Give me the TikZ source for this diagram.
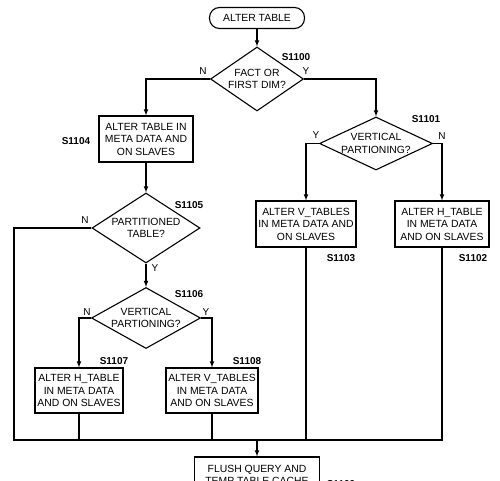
\documentclass[tikz,border=0pt]{standalone}
\usepackage{fontspec}
\setmainfont{Liberation Sans}
\usetikzlibrary{shapes.geometric}
\tikzset{
  fcnode/.style = {align=center, inner sep=0pt, text centered, font=\fontsize{10.4}{12.5}\selectfont},
  fcstart/.style = {fcnode, rectangle, rounded corners=10pt, draw=black, minimum width=95pt, minimum height=21pt},
  fcbox/.style = {fcnode, rectangle, draw=black, minimum height=46pt},
  fcdecide/.style = {fcnode, diamond, draw=black, inner sep=-6pt},
  stepno/.style = {font=\bfseries\fontsize{10}{12}\selectfont, inner sep=0pt},
  yesno/.style = {font=\fontsize{10}{12}\selectfont, inner sep=0pt},
}
\begin{document}
\begin{tikzpicture}[x=1pt, y=-1pt, line width=1.1pt, >=latex]
\useasboundingbox (0,0) rectangle (500,481);
\clip (0,0) rectangle (500,481);
\node [fcstart] (T) at (257,18) {ALTER TABLE};
\node [fcdecide, minimum width=93pt, minimum height=64pt, aspect=1.45] (D1100) at (257,79) {FACT OR\\FIRST DIM?};
\node [fcbox, minimum width=94pt] (B1104) at (146,139) {ALTER TABLE IN\\META DATA AND\\ON SLAVES};
\node [fcdecide, minimum width=108pt, minimum height=70pt, aspect=1.54] (D1105) at (146,228) {PARTITIONED\\TABLE?};
\node [fcdecide, minimum width=109pt, minimum height=61pt, aspect=1.79] (D1106) at (146,318) {VERTICAL\\PARTIONING?};
\node [fcbox, minimum width=88pt, minimum height=45pt] (B1107) at (79,390.5) {ALTER H\_TABLE\\IN META DATA\\AND ON SLAVES};
\node [fcbox, minimum width=92pt, minimum height=45pt] (B1108) at (212,390.5) {ALTER V\_TABLES\\IN META DATA\\AND ON SLAVES};
\node [fcdecide, minimum width=113pt, minimum height=53pt, aspect=2.13] (D1101) at (376,143.5) {VERTICAL\\PARTIONING?};
\node [fcbox, minimum width=100pt] (B1103) at (306,224) {ALTER V\_TABLES\\IN META DATA AND\\ON SLAVES};
\node [fcbox, minimum width=94pt] (B1102) at (442,224) {ALTER H\_TABLE\\IN META DATA\\AND ON SLAVES};
\node [fcbox, minimum width=125pt, minimum height=36pt] (B1109) at (257,475) {FLUSH QUERY AND\\TEMP TABLE CACHE};
\node [stepno] (L1100) at (296,57) {S1100};
\node [stepno] (L1104) at (76,141) {S1104};
\node [stepno] (L1105) at (189,205) {S1105};
\node [stepno] (L1106) at (189,294) {S1106};
\node [stepno] (L1107) at (114,361) {S1107};
\node [stepno] (L1108) at (247,361) {S1108};
\node [stepno] (L1101) at (426,119) {S1101};
\node [stepno] (L1103) at (341,258) {S1103};
\node [stepno] (L1102) at (473,258) {S1102};
\node [stepno] (L1109) at (341,484) {S1109};
\node [yesno] (N1100) at (203,71) {N};
\node [yesno] (Y1100) at (306,71) {Y};
\node [yesno] (N1105) at (85,220) {N};
\node [yesno] (Y1105) at (155,268) {Y};
\node [yesno] (N1106) at (87,312) {N};
\node [yesno] (Y1106) at (206,312) {Y};
\node [yesno] (Y1101) at (316,135) {Y};
\node [yesno] (N1101) at (442,136) {N};
\coordinate (mL) at (14,440);
\coordinate (M) at (257,440);
\draw[->] (T) -- (D1100);
\draw[->] (D1100.west) -| (B1104);
\draw[->] (B1104) -- (D1105);
\draw[->] (D1105) -- (D1106);
\draw[->] (D1106.west) -| (B1107);
\draw[->] (D1106.east) -| (B1108);
\draw[->] (D1100.east) -| (D1101);
\draw[->] (D1101.west) -| (B1103);
\draw[->] (D1101.east) -| (B1102);
\draw (D1105.west) -| (mL) -| (B1102);
\draw (B1107) -- (B1107 |- mL);
\draw (B1108) -- (B1108 |- mL);
\draw (B1103) -- (B1103 |- mL);
\draw[->] (M) -- (B1109);
\end{tikzpicture}
\end{document}
